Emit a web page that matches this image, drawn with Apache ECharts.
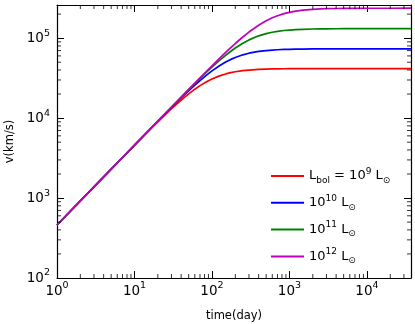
<!DOCTYPE html>
<html>
<head>
<meta charset="utf-8">
<script src="https://cdn.jsdelivr.net/npm/echarts@6/dist/echarts.min.js"></script>
<style>
  html, body { margin: 0; padding: 0; background: #fff; }
  #chart { width: 415px; height: 324px; }
</style>
</head>
<body>
<div id="chart"></div>
<script>
// time (day) samples and velocities (km/s)
var times = [1, 2, 3, 5, 7, 10, 15, 20, 30, 40, 50, 60, 70, 85, 100, 125, 150, 175, 200, 250, 300, 400, 500, 600,
    700, 850, 1000, 1200, 1500, 2000, 2500, 3000, 4000, 5000, 7000, 10000, 20000, 37000];
var vRed = [460, 920, 1379, 2296, 3210, 4572, 6807, 8984, 13102, 16834, 20140, 23016, 25485, 28523, 30895, 33758,
    35688, 37027, 37982, 39202, 39920, 40668, 41032, 41232, 41353, 41465, 41528, 41582, 41624, 41657, 41673,
    41681, 41688, 41693, 41696, 41698, 41700, 41700];
var vBlue = [460, 920, 1380, 2299, 3217, 4591, 6870, 9129, 13563, 17849, 21950, 25838, 29494, 34519, 38993, 45287,
    50306, 54278, 57425, 61931, 64872, 68256, 70011, 71024, 71656, 72235, 72578, 72857, 73083, 73266, 73350,
    73396, 73441, 73462, 73481, 73491, 73498, 73499];
var vGreen = [460, 920, 1380, 2300, 3219, 4597, 6890, 9178, 13725, 18222, 22656, 27012, 31276, 37478, 43419, 52684,
    61100, 68657, 75382, 86567, 95199, 106986, 114158, 118714, 121739, 124640, 126433, 127920, 129179, 130173,
    130649, 130916, 131166, 131286, 131391, 131446, 131486, 131496];
var vMagenta = [460, 920, 1380, 2300, 3220, 4599, 6897, 9193, 13777, 18345, 22892, 27415, 31907, 38578, 45157, 55880,
    66249, 76223, 85764, 103463, 119256, 145340, 165054, 179806, 190873, 202675, 210682, 217776, 224146, 229505,
    231985, 233581, 235059, 235752, 236362, 236685, 236921, 236977];

var seriesNames = ['Lbol=1e9', 'L=1e10', 'L=1e11', 'L=1e12'];
var legendLabels = [
    '{m|L}{sub|bol}{m| = 10}{sup|9}{m| L}{sub|⊙}',
    '{m|10}{sup|10}{m| L}{sub|⊙}',
    '{m|10}{sup|11}{m| L}{sub|⊙}',
    '{m|10}{sup|12}{m| L}{sub|⊙}'
];
var colors = ['#ff0000', '#0000ff', '#008000', '#bf00bf'];

// tick labels (powers of ten)
var xTickValues = [1, 10, 100, 1000, 10000];
var xTickExps = ['0', '1', '2', '3', '4'];
var yTickValues = [100, 1000, 10000, 100000];
var yTickExps = ['2', '3', '4', '5'];
// minor tick positions
var xMinor = [2, 3, 4, 5, 6, 7, 8, 9, 20, 30, 40, 50, 60, 70, 80, 90, 200, 300, 400, 500, 600, 700, 800, 900,
    2000, 3000, 4000, 5000, 6000, 7000, 8000, 9000, 20000, 30000];
var yMinor = [200, 300, 400, 500, 600, 700, 800, 900, 2000, 3000, 4000, 5000, 6000, 7000, 8000, 9000,
    20000, 30000, 40000, 50000, 60000, 70000, 80000, 90000, 200000];

var xMin = 1, xMax = 37000, yMin = 100, yMax = 260000;

var chart = echarts.init(document.getElementById('chart'), null, { renderer: 'canvas' });

function powLabel(values, exps) {
    return function (val) {
        for (var i = 0; i < values.length; i++) {
            if (Math.abs(val - values[i]) / values[i] < 1e-6) {
                return '{b|10}{s|' + exps[i] + '}';
            }
        }
        return '';
    };
}

var tickRich = {
    b: { fontFamily: 'DejaVu Sans', fontSize: 13.5, lineHeight: 20, color: '#000' },
    s: { fontFamily: 'DejaVu Sans', fontSize: 9.5, lineHeight: 10, verticalAlign: 'top', color: '#000' }
};

var frameLine = { show: true, lineStyle: { color: '#000', width: 1.2 } };
var majorTick = { show: true, inside: true, length: 7, lineStyle: { color: '#000', width: 1 } };

function pairs(vals) {
    return times.map(function (t, i) { return [t, vals[i]]; });
}

function lineSeries(name, vals, color) {
    return {
        name: name,
        type: 'line',
        data: pairs(vals),
        smooth: false,
        showSymbol: false,
        symbol: 'none',
        lineStyle: { color: color, width: 1.7 },
        itemStyle: { color: color },
        emphasis: { disabled: true },
        z: 3
    };
}

// minor ticks, placed by the axes' own scales
function minorTicks(points, size, offset) {
    return {
        type: 'scatter',
        data: points,
        symbol: 'rect',
        symbolSize: size,
        symbolOffset: offset,
        itemStyle: { color: '#000' },
        silent: true,
        clip: false,
        emphasis: { disabled: true },
        z: 5
    };
}

var option = {
    backgroundColor: '#fff',
    animation: false,
    grid: { left: 57, right: 4, top: 5, bottom: 46, containLabel: false, outerBoundsMode: 'none' },
    legend: {
        data: seriesNames,
        orient: 'vertical',
        left: 266,
        top: 162,
        icon: 'rect',
        itemWidth: 33,
        itemHeight: 2,
        itemGap: 8.8,
        itemTextGap: 10,
        selectedMode: false,
        formatter: function (name) {
            return legendLabels[seriesNames.indexOf(name)];
        },
        textStyle: {
            color: '#000',
            rich: {
                m: { fontFamily: 'DejaVu Sans', fontSize: 13, lineHeight: 18, color: '#000' },
                sup: { fontFamily: 'DejaVu Sans', fontSize: 9, lineHeight: 10, verticalAlign: 'top', color: '#000' },
                sub: { fontFamily: 'DejaVu Sans', fontSize: 9, lineHeight: 10, verticalAlign: 'bottom', color: '#000' }
            }
        }
    },
    xAxis: [
        {
            type: 'log', logBase: 10, min: xMin, max: xMax, position: 'bottom',
            name: 'time(day)', nameLocation: 'middle', nameGap: 32,
            nameTextStyle: { fontFamily: 'DejaVu Sans', fontSize: 11.5, color: '#000' },
            axisLine: frameLine, axisTick: majorTick, splitLine: { show: false },
            axisLabel: { margin: 3, formatter: powLabel(xTickValues, xTickExps), rich: tickRich }
        },
        {
            type: 'log', logBase: 10, min: xMin, max: xMax, position: 'top',
            axisLine: frameLine, axisTick: majorTick, splitLine: { show: false },
            axisLabel: { show: false }
        }
    ],
    yAxis: [
        {
            type: 'log', logBase: 10, min: yMin, max: yMax, position: 'left',
            name: 'v(km/s)', nameLocation: 'middle', nameGap: 33,
            nameTextStyle: { fontFamily: 'DejaVu Sans', fontSize: 11.5, color: '#000' },
            axisLine: frameLine, axisTick: majorTick, splitLine: { show: false },
            axisLabel: { margin: 7, formatter: powLabel(yTickValues, yTickExps), rich: tickRich }
        },
        {
            type: 'log', logBase: 10, min: yMin, max: yMax, position: 'right',
            axisLine: frameLine, axisTick: majorTick, splitLine: { show: false },
            axisLabel: { show: false }
        }
    ],
    series: [
        lineSeries(seriesNames[0], vRed, colors[0]),
        lineSeries(seriesNames[1], vBlue, colors[1]),
        lineSeries(seriesNames[2], vGreen, colors[2]),
        lineSeries(seriesNames[3], vMagenta, colors[3]),
        minorTicks(xMinor.map(function (v) { return [v, yMin]; }), [1, 4], [0, -2]),
        minorTicks(xMinor.map(function (v) { return [v, yMax]; }), [1, 4], [0, 2]),
        minorTicks(yMinor.map(function (v) { return [xMin, v]; }), [4, 1], [2, 0]),
        minorTicks(yMinor.map(function (v) { return [xMax, v]; }), [4, 1], [-2, 0])
    ]
};

chart.setOption(option);
</script>
</body>
</html>
